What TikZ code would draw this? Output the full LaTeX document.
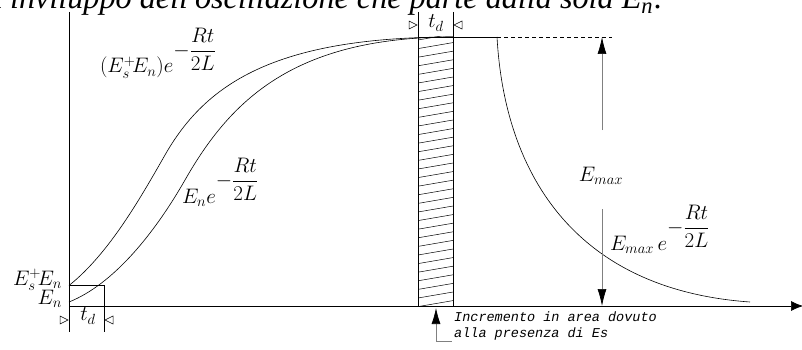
\RequirePackage{fix-cm}
\documentclass[tikz,border=0pt]{standalone}
\usepackage{fontspec}
\usepackage{graphicx}
\newfontfamily\capfont{Liberation Serif}
\newfontfamily\notefont{Liberation Mono}
\usetikzlibrary{arrows.meta}
\tikzset{
  ln/.style={draw=black, line width=0.6pt},
  thin/.style={draw=black, line width=0.5pt},
  lbl/.style={inner sep=0pt, outer sep=0pt, font=\fontsize{21}{24}\selectfont},
  emarrow/.style={draw=gray, line width=0.7pt, -{Latex[length=17pt,width=9pt,color=black]}},
  marker/.style={draw=black, line width=0.5pt}
}
\begin{document}
\begin{tikzpicture}[x=1pt,y=-1pt]
\useasboundingbox (0,0) rectangle (802,350);
% top caption (cut off)
\node[inner sep=0pt, anchor=base west] (cap) at (-6,9) {\resizebox{668pt}{!}{\capfont\itshape l'inviluppo dell'oscillazione che parte dalla sola E\textsubscript{n}.}};
% axes
\draw[ln] (69,12) -- (69,332);
\draw[ln, -{Latex[length=12pt,width=10pt]}] (69,306) -- (803,306);
% small rectangle at origin
\draw[thin] (69,285.5) -- (104,285.5) -- (104,332);
% hatched strip
\begin{scope}
\clip (418,37) rectangle (453,306);
\foreach \k in {0,...,32} {
  \draw[thin] (418,40+8.6*\k) -- (453,34+8.6*\k);
}
\end{scope}
\draw[thin] (418,12) -- (418,306);
\draw[thin] (453,12) -- (453,306);
% curves
\draw[ln] (69,285.5) .. controls (109,253.5) and (140,198.75) .. (165,155)
                     .. controls (205,85) and (273,37) .. (453,37);
\draw[ln] (69,302) .. controls (114,284) and (155,232.5) .. (185,180)
                   .. controls (230,101.25) and (293,37) .. (453,37);
\draw[ln] (418,37) -- (497,37);
\draw[thin, dash pattern=on 4pt off 3pt] (497,37) -- (612,37);
\draw[ln] (497,37) .. controls (505,180) and (580,290) .. (750,302);
% Emax arrows
\node[lbl] (emax) at (601,176) {$E_{max}$};
\draw[emarrow] (602,130) -- (602,37);
\draw[emarrow] (602,209) -- (602,306);
% td markers bottom
\draw[marker] (60,316) -- (68,320) -- (60,324) -- cycle;
\draw[marker] (113,316) -- (105,320) -- (113,324) -- cycle;
\node[lbl] (tdb) at (88,316) {$t_d$};
% td markers top
\draw[marker] (409,21) -- (417,25) -- (409,29) -- cycle;
\draw[marker] (462,21) -- (454,25) -- (462,29) -- cycle;
\node[lbl] (tdt) at (436,23) {$t_d$};
% labels
\node[lbl, anchor=base west] (l1) at (100,73) {$(E_s^{+}\!E_n)e^{\displaystyle -\frac{Rt}{2L}}$};
\node[lbl, anchor=base west] (l2) at (182,203) {$E_n e^{\displaystyle -\frac{Rt}{2L}}$};
\node[lbl, anchor=base west] (l3) at (610,250) {$E_{max}\,e^{\displaystyle -\frac{Rt}{2L}}$};
\node[lbl, anchor=base east] (l4) at (62,285) {$E_s^{+}\!E_n$};
\node[lbl, anchor=base east] (l5) at (62,304) {$E_n$};
% Incremento note
\coordinate (tip) at (436,308);
\coordinate (bend) at (436,341);
\coordinate (tail) at (452,341);
\draw[draw=gray, line width=0.7pt, {Latex[length=16pt,width=9pt,color=black]}-] (tip) -- (bend) -- (tail);
\node[inner sep=0pt, anchor=base west, align=left, font=\fontsize{13.5}{16}\selectfont\notefont\itshape] (note) at (454,337) {Incremento in area dovuto\\alla presenza di Es};
\end{tikzpicture}
\end{document}
